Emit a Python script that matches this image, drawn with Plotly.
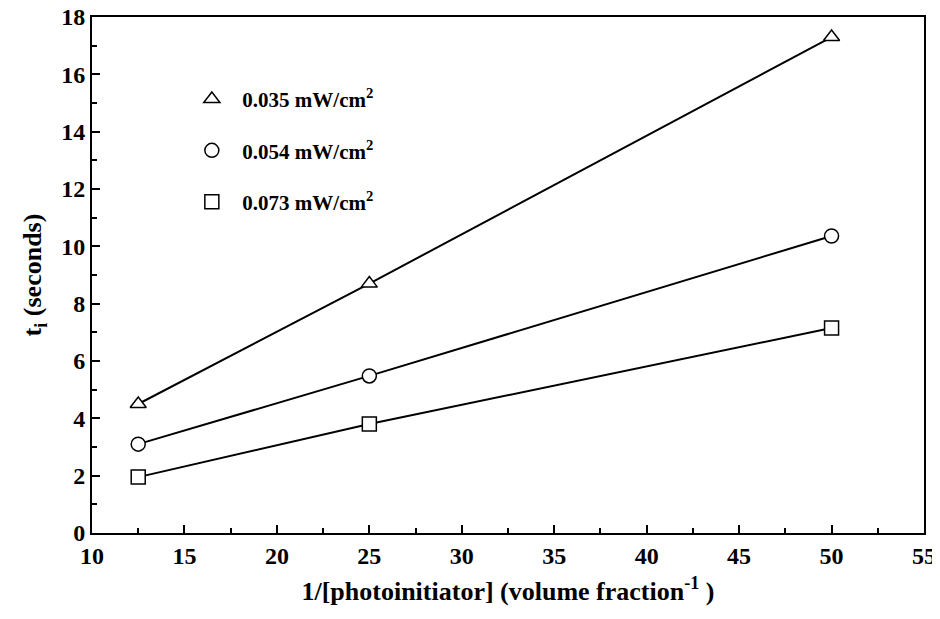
import plotly.graph_objects as go

x_vals = [12.5, 25, 50]
t_035 = [4.5, 8.7, 17.3]
t_054 = [3.1, 5.48, 10.36]
t_073 = [1.95, 3.8, 7.15]

series_names = ["0.035 mW/cm<sup>2</sup>", "0.054 mW/cm<sup>2</sup>", "0.073 mW/cm<sup>2</sup>"]
series_vals = [t_035, t_054, t_073]
symbols = ["triangle-up", "circle", "square"]

x_ticks = [10, 15, 20, 25, 30, 35, 40, 45, 50, 55]
y_ticks = [0, 2, 4, 6, 8, 10, 12, 14, 16, 18]

FONT = "Liberation Serif"

fig = go.Figure()
for name, vals, sym in zip(series_names, series_vals, symbols):
    fig.add_trace(go.Scatter(
        x=x_vals, y=vals, mode="lines+markers", showlegend=False,
        line=dict(color="black", width=2),
        marker=dict(symbol=sym, size=14, color="white", line=dict(color="black", width=1.5)),
    ))
for i, (name, sym) in enumerate(zip(series_names, symbols)):
    fig.add_trace(go.Scatter(
        x=[None], y=[None], mode="markers", name=f"&nbsp;&nbsp;<b>{name}</b>", legendgroup=f"g{i}",
        marker=dict(symbol=sym, size=14, color="white", line=dict(color="black", width=1.5)),
    ))

axis_common = dict(
    showline=True, linecolor="black", linewidth=2, mirror=True,
    ticks="inside", ticklen=8, tickwidth=1.5, tickcolor="black",
    showgrid=False, zeroline=False, automargin=False,
    ticklabeloverflow="allow",
    tickfont=dict(family=FONT, size=24, color="black"),
)

fig.update_xaxes(
    range=[10, 55], tickvals=x_ticks, ticktext=[f"<b>{v}</b>" for v in x_ticks],
    minor=dict(ticks="inside", ticklen=5, tickwidth=1.5, tickcolor="black", dtick=2.5, tick0=10),
    title=dict(text="<b>1/[photoinitiator] (volume fraction<sup>-1</sup> )</b>",
               font=dict(family=FONT, size=26, color="black"), standoff=14),
    **axis_common,
)
fig.update_yaxes(
    range=[0, 18], tickvals=y_ticks, ticktext=[f"<b>{v}</b>" for v in y_ticks],
    minor=dict(ticks="inside", ticklen=5, tickwidth=1.5, tickcolor="black", dtick=1, tick0=0),
    title=dict(text="<b>t<sub>i</sub> (seconds)</b>",
               font=dict(family=FONT, size=26, color="black"), standoff=12),
    **axis_common,
)

fig.update_layout(
    width=932, height=611,
    margin=dict(l=84, r=16, t=9, b=86),
    plot_bgcolor="white", paper_bgcolor="white",
    legend=dict(
        x=0.12, y=0.88, xanchor="left", yanchor="top",
        font=dict(family=FONT, size=21, color="black"),
        bgcolor="rgba(0,0,0,0)", tracegroupgap=21,
    ),
)

fig.write_html("out.html")
